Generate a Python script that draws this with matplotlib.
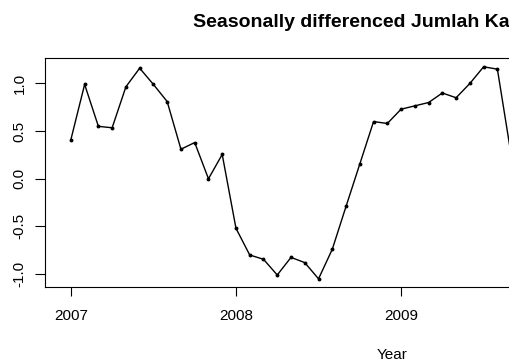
import numpy as np
import matplotlib
matplotlib.use("Agg")
import matplotlib.pyplot as plt

plt.rcParams['font.family'] = ['Liberation Sans', 'DejaVu Sans']

# monthly seasonally differenced series, starting Jan 2007
start_year = 2007
values = [0.41, 0.99, 0.55, 0.535, 0.965, 1.16, 0.99, 0.81, 0.31, 0.38,
          0.0, 0.255, -0.52, -0.80, -0.845, -1.01, -0.825, -0.88, -1.05, -0.74,
          -0.29, 0.155, 0.60, 0.58, 0.73, 0.765, 0.80, 0.90, 0.85, 1.0,
          1.175, 1.15, 0.25]
n_months = 48
year_ticks = [2007, 2008, 2009]
y_ticks = [-1.0, -0.5, 0.0, 0.5, 1.0]
title = "Seasonally differenced Jumlah Ka"

t = start_year + np.arange(len(values)) / 12.0

fig = plt.figure(figsize=(5.10, 3.64), dpi=100)
# plot region runs past the right edge of the canvas
ax = fig.add_axes([45 / 510, 1 - 287.3 / 364, 698.4 / 510, 229 / 364])

ax.plot(t, values, color='black', lw=1.0, marker='o', ms=1.8,
        mfc='black', mec='black')

# R style 4% padding around the data range
t_end = start_year + (n_months - 1) / 12.0
xr = t_end - start_year
ax.set_xlim(start_year - 0.04 * xr, t_end + 0.04 * xr)
vmin, vmax = min(values), max(values)
yr = vmax - vmin
ax.set_ylim(vmin - 0.04 * yr, vmax + 0.04 * yr)

ax.set_xticks(year_ticks)
ax.set_xticklabels([str(y) for y in year_ticks])
ax.set_yticks(y_ticks)
ax.set_yticklabels(['%.1f' % v for v in y_ticks])
ax.tick_params(axis='x', length=6.5, width=0.8, pad=9, labelsize=11)
ax.tick_params(axis='y', length=7.2, width=0.8, pad=6, labelsize=11,
               labelrotation=90)
for lab in ax.get_yticklabels():
    lab.set_va('center')

for s in ax.spines.values():
    s.set_linewidth(0.8)

fig.text(193 / 510, 1 - 26.7 / 364, title, ha='left', va='baseline',
         fontsize=14, fontweight='bold')
fig.text(392 / 510, 1 - 355 / 364, 'Year', ha='center', va='center',
         fontsize=11)

fig.savefig('out.png', dpi=100)
